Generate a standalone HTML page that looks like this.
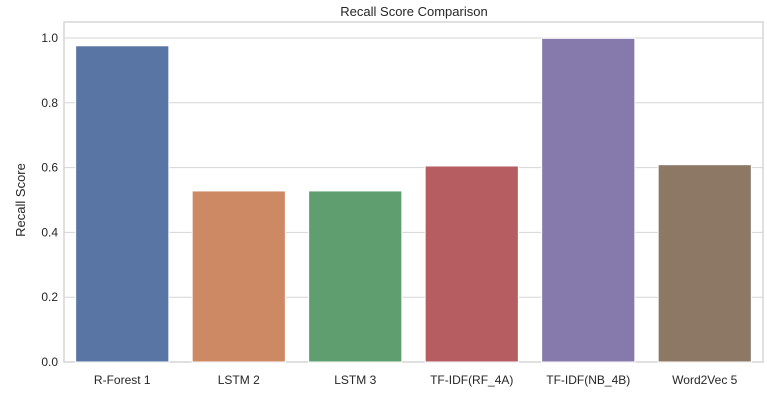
<!DOCTYPE html>
<html><head><meta charset="utf-8"><style>
body{margin:0;background:#fff;}
svg text{font-family:"Liberation Sans",Arial,sans-serif;fill:#262626;}
</style></head><body>
<svg width="767" height="402" id="c">
<rect x="0" y="0" width="767" height="402" fill="#fff"/>
<text x="414" y="16" text-anchor="middle" font-size="13">Recall Score Comparison</text>
<text transform="translate(25,200) rotate(-90)" text-anchor="middle" font-size="13">Recall Score</text>
</svg>
<script>
const categories=["R-Forest 1","LSTM 2","LSTM 3","TF-IDF(RF_4A)","TF-IDF(NB_4B)","Word2Vec 5"];
const values=[0.976,0.528,0.528,0.605,0.999,0.609];
const colors=["#5875a4","#cc8963","#5f9e6e","#b55d60","#857aab","#8d7866"];
const yTicks=[0,0.2,0.4,0.6,0.8,1.0];
const svg=document.getElementById('c');
const NS="http://www.w3.org/2000/svg";
const L=64,R=763,T=22,B=362;
const y=v=>B-v*324;
const step=(R-L)/categories.length;
const x=i=>L+step*i+step*0.1;
function mk(t,a){const e=document.createElementNS(NS,t);for(const k in a)e.setAttribute(k,a[k]);svg.appendChild(e);return e;}
yTicks.forEach(t=>{
 const g=mk('line',{x1:L,x2:R,y1:y(t),y2:y(t),stroke:'#d5d5d5','stroke-width':1});
 
 
 const tx=mk('text',{x:L-6,y:y(t)+4,'text-anchor':'end','font-size':12});
 tx.textContent=t.toFixed(1);
 
 
});
const fr=mk('rect',{x:L,y:T,width:R-L,height:B-T,fill:'none',stroke:'#d5d5d5','stroke-width':1.5});


categories.forEach((c,i)=>{
 const b=mk('rect',{x:x(i),y:y(values[i]),width:step*0.8,height:B-y(values[i]),fill:colors[i],stroke:'#fff','stroke-width':1});
 
 
 const t=mk('text',{x:L+step*(i+0.5),y:B+22,'text-anchor':'middle','font-size':12});
 t.textContent=c;
 
 
});
</script>
</body></html>
